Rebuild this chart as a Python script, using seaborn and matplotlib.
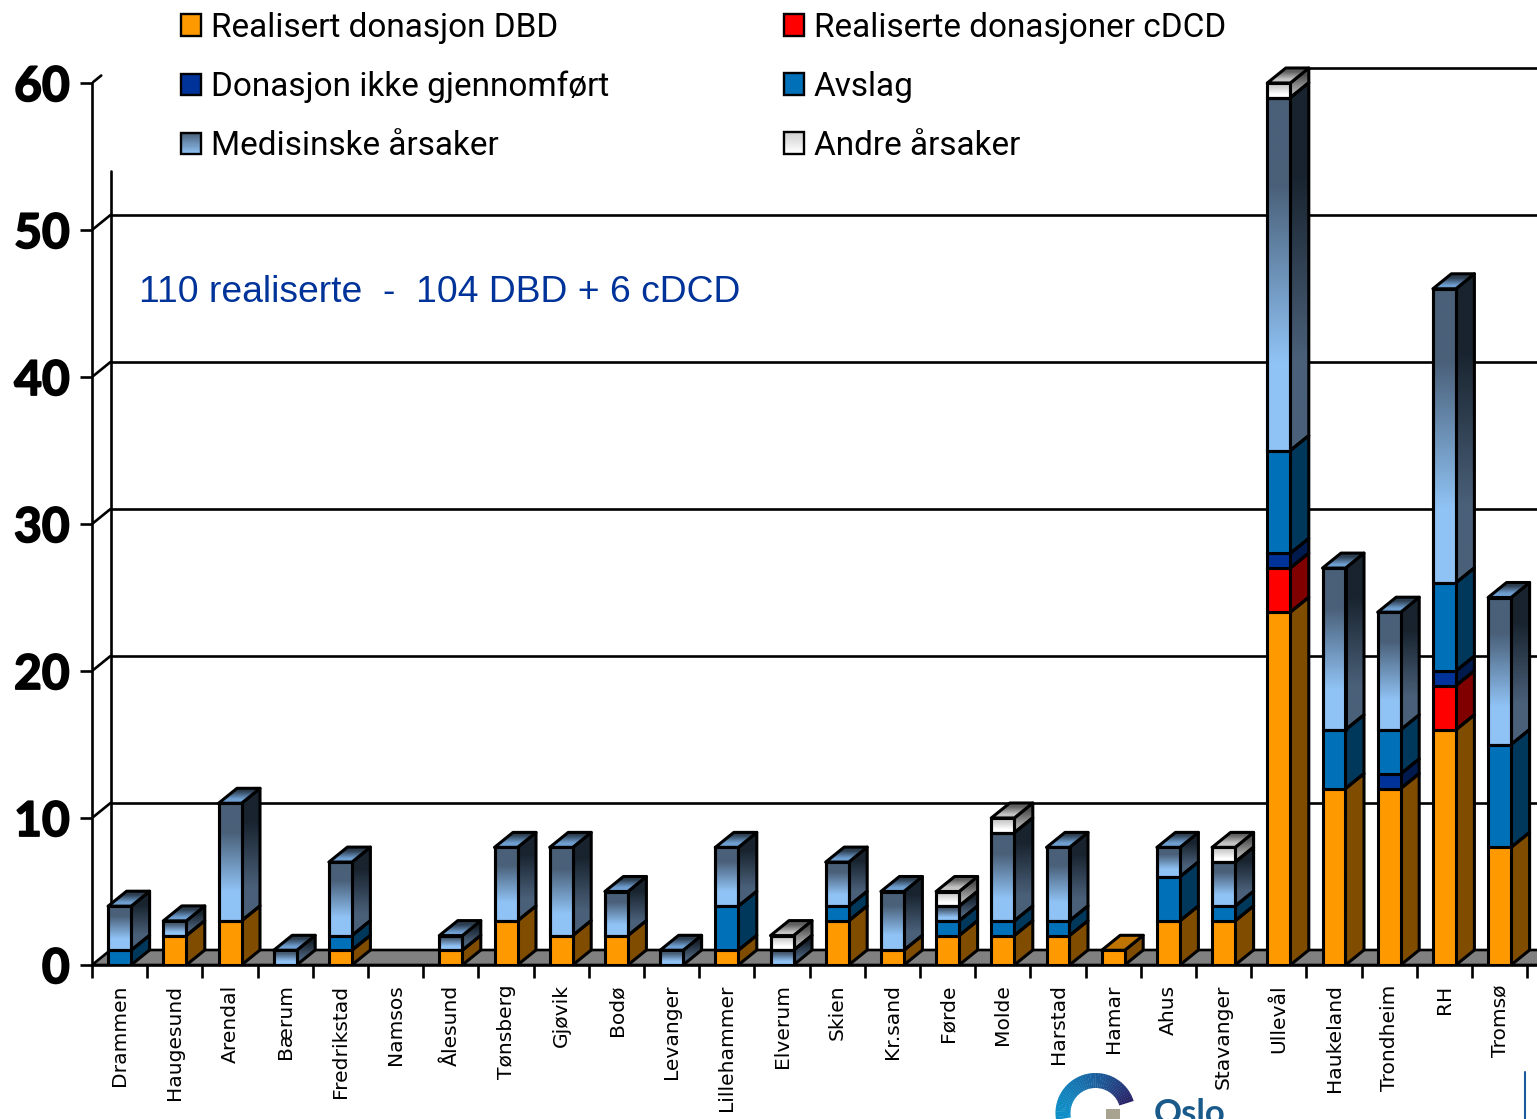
import numpy as np
import matplotlib
matplotlib.use("Agg")
import matplotlib.pyplot as plt
import matplotlib.colors as mcolors
import matplotlib.patheffects as pe
from matplotlib.legend_handler import HandlerBase
from matplotlib.patches import Patch, Polygon, Rectangle, Wedge
import seaborn as sns

categories = ['Drammen', 'Haugesund', 'Arendal', 'Bærum', 'Fredrikstad', 'Namsos', 'Ålesund',
              'Tønsberg', 'Gjøvik', 'Bodø', 'Levanger', 'Lillehammer', 'Elverum', 'Skien',
              'Kr.sand', 'Førde', 'Molde', 'Harstad', 'Hamar', 'Ahus', 'Stavanger', 'Ullevål',
              'Haukeland', 'Trondheim', 'RH', 'Tromsø']
dbd =      [0, 2, 3, 0, 1, 0, 1, 3, 2, 2, 0, 1, 0, 3, 1, 2, 2, 2, 1, 3, 3, 24, 12, 12, 16, 8]
cdcd =     [0, 0, 0, 0, 0, 0, 0, 0, 0, 0, 0, 0, 0, 0, 0, 0, 0, 0, 0, 0, 0, 3, 0, 0, 3, 0]
ikke =     [0, 0, 0, 0, 0, 0, 0, 0, 0, 0, 0, 0, 0, 0, 0, 0, 0, 0, 0, 0, 0, 1, 0, 1, 1, 0]
avslag =   [1, 0, 0, 0, 1, 0, 0, 0, 0, 0, 0, 3, 0, 1, 0, 1, 1, 1, 0, 3, 1, 7, 4, 3, 6, 7]
medisin =  [3, 1, 8, 1, 5, 0, 1, 5, 6, 3, 1, 4, 1, 3, 4, 1, 6, 5, 0, 2, 3, 24, 11, 8, 20, 10]
andre =    [0, 0, 0, 0, 0, 0, 0, 0, 0, 0, 0, 0, 1, 0, 0, 1, 1, 0, 0, 0, 1, 1, 0, 0, 0, 0]
y_ticks = [0, 10, 20, 30, 40, 50, 60]

# name, values, front (top, bottom), side (top, bottom), cap (far, near)
series = [
    ('Realisert donasjon DBD', dbd, ('#ff9900', '#ff9900'), ('#804d00', '#804d00'), ('#bf7300', '#bf7300')),
    ('Realiserte donasjoner cDCD', cdcd, ('#ff0000', '#ff0000'), ('#800000', '#800000'), ('#bf0000', '#bf0000')),
    ('Donasjon ikke gjennomført', ikke, ('#003399', '#003399'), ('#001a4d', '#001a4d'), ('#002673', '#002673')),
    ('Avslag', avslag, ('#0070b8', '#0070b8'), ('#00385c', '#00385c'), ('#00548a', '#00548a')),
    ('Medisinske årsaker', medisin, ('#4a6079', '#90c3f5'), ('#18232e', '#4a6079'), ('#2d3e50', '#6f9fd0')),
    ('Andre årsaker', andre, ('#cfcfcf', '#ffffff'), ('#505050', '#a8a8a8'), ('#606060', '#c4c4c4')),
]

W, H = 1537, 1119
px_x = 55.2  # pixels per category
px_y = 14.7  # pixels per unit
depth_x = 18.5 / px_x
depth_y = 15 / px_y
bar_w = 23 / px_x
x_left = -0.5
x_right = x_left + (W - 92) / px_x
y_top = 965 / px_y
edge_lw = 2.2

sns.set_style("white")
fig = plt.figure(figsize=(W / 100, H / 100), dpi=100)
ax = fig.add_axes([92 / W, (H - 965) / H, (W - 92) / W, 965 / H])
ax.patch.set_alpha(0)


def fill_gradient(ax, points, top, bottom, z):
    pts = np.array(points, dtype=float)
    poly = Polygon(pts, closed=True, fc='none', ec='black', lw=edge_lw, zorder=z + 0.1, joinstyle='round')
    ax.add_patch(poly)
    c = np.array([mcolors.to_rgb(top), mcolors.to_rgb(bottom)]).reshape(2, 1, 3)
    im = ax.imshow(c, extent=(pts[:, 0].min(), pts[:, 0].max(), pts[:, 1].min(), pts[:, 1].max()),
                   aspect='auto', interpolation='bilinear', origin='upper', zorder=z)
    im.set_clip_path(poly)


# back wall and floor
for t in y_ticks[1:6]:
    ax.plot([x_left, x_left + depth_x], [t, t + depth_y], color='black', lw=1.9, zorder=1)
    ax.plot([x_left + depth_x, x_right], [t + depth_y, t + depth_y], color='black', lw=1.9, zorder=1)
ax.plot([x_left, x_left + depth_x * 0.5], [60, 60 + depth_y * 0.5], color='black', lw=1.9, zorder=1)
ax.plot([categories.index('Ullevål') + bar_w / 2 + depth_x, x_right], [60 + depth_y, 60 + depth_y],
        color='black', lw=1.9, zorder=1)
ax.plot([x_left + depth_x, x_left + depth_x], [depth_y, 54], color='black', lw=1.9, zorder=1)
ax.add_patch(Polygon([(x_left, 0), (x_left + depth_x, depth_y), (x_right + 1, depth_y), (x_right + 1, 0)],
                     closed=True, fc='#808080', ec='black', lw=1.9, zorder=2))

# stacked bars, the faces get their depth from the same values
bottoms = np.zeros(len(categories))
totals = np.sum([s[1] for s in series], axis=0)
for name, values, front, side, cap in series:
    sns.barplot(x=categories, y=values, order=categories, bottom=bottoms, color=front[1], saturation=1,
                width=bar_w, edgecolor='black', linewidth=edge_lw, zorder=6, errorbar=None, ax=ax)
    bars = ax.containers[-1]
    for i, (bar, v) in enumerate(zip(bars, values)):
        if v == 0:
            bar.set_visible(False)
            continue
        x0 = i - bar_w / 2
        x1 = i + bar_w / 2
        y0 = bottoms[i]
        y1 = y0 + v
        if front[0] != front[1]:
            bar.set_facecolor('none')
            fill_gradient(ax, [(x0, y0), (x1, y0), (x1, y1), (x0, y1)], front[0], front[1], 5.5)
        fill_gradient(ax, [(x1, y0), (x1 + depth_x, y0 + depth_y), (x1 + depth_x, y1 + depth_y), (x1, y1)],
                      side[0], side[1], 4)
        if y1 == totals[i]:
            fill_gradient(ax, [(x0, y1), (x1, y1), (x1 + depth_x, y1 + depth_y), (x0 + depth_x, y1 + depth_y)],
                          cap[0], cap[1], 4.5)
    bottoms = bottoms + np.array(values)

ax.set_xlim(x_left, x_right)
ax.set_ylim(0, y_top)
ax.set_xlabel('')
ax.set_ylabel('')
for s in ['top', 'right']:
    ax.spines[s].set_visible(False)
ax.spines['left'].set_bounds(0, 60)
ax.spines['left'].set_linewidth(1.9)
ax.spines['left'].set_color('black')
ax.spines['bottom'].set_linewidth(1.9)
ax.spines['bottom'].set_color('black')
ax.spines['bottom'].set_zorder(7)

ax.set_yticks(y_ticks)
ax.set_yticklabels([str(t) for t in y_ticks], fontfamily='Lato', fontweight='bold', fontsize=34.5, color='black',
                   path_effects=[pe.withStroke(linewidth=1.3, foreground='black')])
ax.tick_params(axis='y', length=9, width=1.9, color='black', pad=7, left=True)
ax.set_xticks(range(len(categories)))
ax.set_xticklabels(categories, rotation=90, ha='center', va='top', fontsize=14.6, color='black',
                   fontfamily='DejaVu Sans')
ax.set_xticks(np.arange(len(categories) + 1) - 0.5, minor=True)
ax.tick_params(axis='x', which='major', length=0, pad=14, bottom=False)
ax.tick_params(axis='x', which='minor', length=9, width=1.9, color='black', bottom=True)

fig.text(139 / W, 1 - 292.5 / H, '110 realiserte  -  104 DBD + 6 cDCD', color='#003399', fontsize=26.8,
         family='Liberation Sans', va='center', ha='left')


class GradientHandler(HandlerBase):
    def __init__(self, top, bottom):
        super().__init__()
        self.top = np.array(mcolors.to_rgb(top))
        self.bottom = np.array(mcolors.to_rgb(bottom))

    def create_artists(self, legend, orig_handle, xd, yd, width, height, fontsize, trans):
        out = []
        n = 20
        for k in range(n):
            col = self.bottom + (self.top - self.bottom) * k / (n - 1)
            out.append(Rectangle((-xd, -yd + height * k / n), width, height / n + 0.3, fc=col, ec='none',
                                 transform=trans))
        out.append(Rectangle((-xd, -yd), width, height, fc='none', ec='black', lw=1.7, transform=trans))
        return out


handles = []
hmap = {}
for name, values, front, side, cap in series:
    h = Patch(label=name)
    handles.append(h)
    hmap[h] = GradientHandler(front[0], front[1])
# legend reads across the rows, matplotlib fills by column
handles = [handles[0], handles[2], handles[4], handles[1], handles[3], handles[5]]
fig.legend(handles=handles, handler_map=hmap, ncol=2, loc='upper left', bbox_to_anchor=(174 / W, 1 - 5 / H),
           frameon=False, prop={'family': 'Roboto', 'size': 24}, handlelength=0.6, handleheight=0.62,
           handletextpad=0.3, labelspacing=0.81, columnspacing=5.25, borderpad=0.2, borderaxespad=0,
           labelcolor='black')

# logo corner, in pixel coordinates
logo = fig.add_axes([0, 0, 1, 1], zorder=10)
logo.set_xlim(0, W)
logo.set_ylim(H, 0)
logo.axis('off')
arc_left = np.array(mcolors.to_rgb('#0f8fc8'))
arc_right = np.array(mcolors.to_rgb('#2a2468'))
for k, th in enumerate(range(170, 340, 4)):
    col = arc_left + (arc_right - arc_left) * (k / 42) ** 1.5
    logo.add_patch(Wedge((1095.5, 1113), 40, th, th + 4.5, width=15, fc=col, ec='none'))
logo.add_patch(Rectangle((1106, 1109), 14, 10, fc='#a8a390', ec='none'))
logo.text(1154, 1124, 'Oslo', color='#1a5a8a', fontsize=25, family='Lato', fontweight='bold', va='baseline', ha='left')
logo.plot([1525, 1525], [1072, 1119], color='#1a5a9a', lw=1.5)

fig.savefig('out.png', dpi=100)
